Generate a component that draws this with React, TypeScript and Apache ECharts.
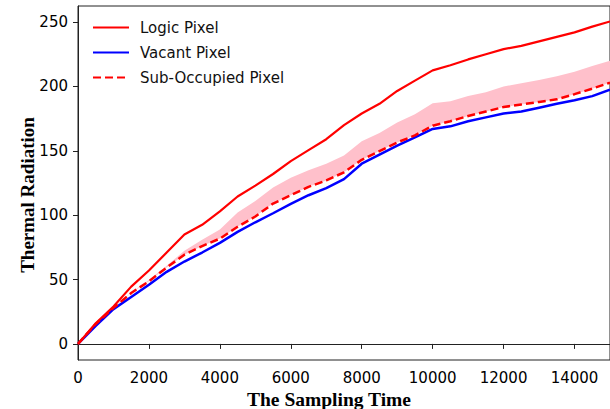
import React, { useEffect, useRef } from "react";
import * as echarts from "echarts";

const times = [0, 500, 1000, 1500, 2000, 2500, 3000, 3500, 4000, 4500, 5000, 5500, 6000, 6500, 7000, 7500, 8000, 8500, 9000, 9500, 10000, 10500, 11000, 11500, 12000, 12500, 13000, 13500, 14000, 14500, 15000];
const logicPixel = [0, 16, 29, 44.5, 57, 71, 85, 92.5, 103, 114.5, 123, 132, 142, 150.5, 159, 170, 179, 186.5, 196.5, 204.5, 212.5, 216.5, 221, 225, 229, 231.5, 235, 238.5, 242, 246.5, 250.5];
const vacantPixel = [0, 14, 27, 36.5, 46, 56, 64, 71, 78.5, 87, 94.5, 101.5, 108.7, 115.5, 121, 128, 140, 147, 154, 160.5, 167, 169, 173, 176, 179, 180.5, 183.5, 186.5, 189.3, 192.5, 197.5];
const subOccupiedPixel = [0, 15.5, 28, 39.5, 48.7, 59.3, 69.3, 76, 81.8, 91, 99, 109, 115.5, 122, 127, 133.3, 143, 149.8, 156.5, 162, 169.5, 173, 177, 180.5, 184, 186, 188, 190, 194, 198.3, 203];
const bandWidth = [0, 0, 0.5, 0.5, 1, 1.5, 3, 5, 7, 11, 12, 12.5, 13.5, 13, 13, 13, 14.5, 14, 15.5, 16.5, 17.5, 15.5, 15.5, 15, 16, 16.5, 17, 18, 17.5, 17.5, 17];
const xTicks = [0, 2000, 4000, 6000, 8000, 10000, 12000, 14000];
const yTicks = [0, 50, 100, 150, 200, 250];

export default function App() {
  const ref = useRef<HTMLDivElement>(null);
  useEffect(() => {
    if (!ref.current) return;
    const chart = echarts.init(ref.current, null, { renderer: "svg" });
    const pair = (arr: number[]) => times.map((t, i) => [t, arr[i]]);
    const bandData = times.map((t, i) => [t, subOccupiedPixel[i], subOccupiedPixel[i] + bandWidth[i]]);
    const tickFont = { fontFamily: "DejaVu Sans", fontSize: 15, color: "#000" };
    chart.setOption({
      animation: false,
      backgroundColor: "#fff",
      grid: {
        left: 78,
        top: 6,
        width: 533,
        height: 354,
        show: true,
        borderColor: "#222",
        borderWidth: 1,
        containLabel: false,
      },
      legend: {
        orient: "vertical",
        left: 87,
        top: 15,
        itemWidth: 36,
        itemHeight: 14,
        itemGap: 10,
        itemStyle: { opacity: 0 },
        data: ["Logic Pixel", "Vacant Pixel", "Sub-Occupied Pixel"],
        textStyle: { fontFamily: "DejaVu Sans", fontSize: 15, color: "#111", padding: [0, 0, 0, 6] },
      },
      xAxis: {
        type: "value",
        min: 0,
        max: 15000,
        axisLine: { show: true, lineStyle: { color: "#222", width: 1 } },
        axisTick: { show: true, length: 5, lineStyle: { color: "#222" }, customValues: xTicks },
        axisLabel: { ...tickFont, margin: 10, customValues: xTicks, formatter: (v: number) => String(v) },
        splitLine: { show: false },
      },
      yAxis: {
        type: "value",
        min: -12.5,
        max: 262.5,
        axisLine: { show: true, lineStyle: { color: "#222", width: 1 } },
        axisTick: { show: true, length: 5, lineStyle: { color: "#222" }, customValues: yTicks },
        axisLabel: { ...tickFont, margin: 10, customValues: yTicks, formatter: (v: number) => String(v) },
        splitLine: { show: false },
      },
      graphic: [
        {
          type: "text",
          x: 27,
          y: 195,
          rotation: Math.PI / 2,
          style: {
            text: "Thermal Radiation",
            fontFamily: "Liberation Serif",
            fontWeight: "bold",
            fontSize: 19,
            fill: "#000",
            align: "center",
            verticalAlign: "middle",
          },
        },
        {
          type: "text",
          x: 329,
          y: 399,
          style: {
            text: "The Sampling Time",
            fontFamily: "Liberation Serif",
            fontWeight: "bold",
            fontSize: 19.5,
            fill: "#000",
            align: "center",
            verticalAlign: "middle",
          },
        },
      ],
      series: [
        {
          name: "band",
          type: "custom",
          silent: true,
          data: bandData,
          encode: { x: 0, y: [1, 2] },
          renderItem: (params: any, api: any) => {
            if (params.dataIndex !== 0) return null;
            const lower = bandData.map((d) => api.coord([d[0], d[1]]));
            const upper = bandData.map((d) => api.coord([d[0], d[2]])).reverse();
            return {
              type: "polygon",
              shape: { points: lower.concat(upper) },
              style: { fill: "#ffc0cb", stroke: "none" },
            };
          },
        },
        {
          name: "Vacant Pixel",
          type: "line",
          data: pair(vacantPixel),
          symbol: "none",
          color: "#0000ff",
          lineStyle: { color: "#0000ff", width: 2.5 },
        },
        {
          name: "Logic Pixel",
          type: "line",
          data: pair(logicPixel),
          symbol: "none",
          color: "#ff0000",
          lineStyle: { color: "#ff0000", width: 2.2 },
        },
        {
          name: "Sub-Occupied Pixel",
          type: "line",
          data: pair(subOccupiedPixel),
          symbol: "none",
          color: "#ff0000",
          lineStyle: { color: "#ff0000", width: 2.5, type: [8, 4] },
        },
      ],
    });
    return () => chart.dispose();
  }, []);
  return <div ref={ref} style={{ position: "fixed", left: 0, top: 0, width: 610, height: 409 }} />;
}
